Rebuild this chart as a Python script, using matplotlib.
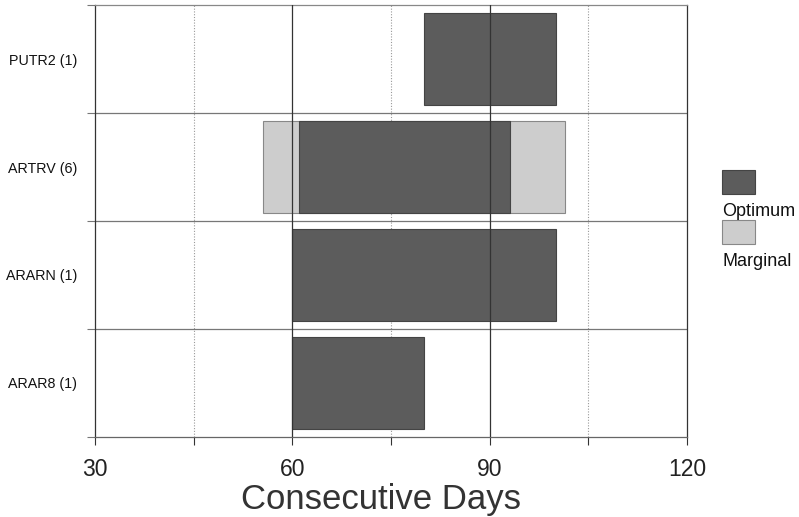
import matplotlib
matplotlib.use('Agg')
import matplotlib.pyplot as plt
from matplotlib.patches import Rectangle

plt.rcParams['font.family'] = ['Liberation Sans', 'DejaVu Sans']

# 資料
species = ['PUTR2 (1)', 'ARTRV (6)', 'ARARN (1)', 'ARAR8 (1)']
optimum_start = [80, 61, 60, 60]
optimum_end = [100, 93, 100, 80]
marginal_start = [None, 55.5, None, None]
marginal_end = [None, 101.5, None, None]
x_ticks = [30, 60, 90, 120]
x_minor = [45, 75, 105]

opt_color = '#5c5c5c'
mar_color = '#cdcdcd'

fig = plt.figure(figsize=(7.99, 5.17), dpi=100)
ax = fig.add_axes([0.119, 0.155, 0.741, 0.835])

ypos = list(range(len(species)))
bar_h = 0.85

# marginal 背景條
for y, s, e in zip(ypos, marginal_start, marginal_end):
    if s is not None:
        ax.barh(y, e - s, left=s, height=bar_h, color=mar_color,
                edgecolor='#888888', linewidth=0.8, zorder=2)

# optimum 條
widths = [e - s for s, e in zip(optimum_start, optimum_end)]
ax.barh(ypos, widths, left=optimum_start, height=bar_h, color=opt_color,
        edgecolor='#444444', linewidth=0.8, zorder=3)

ax.set_xlim(30, 120)
ax.set_ylim(len(species) - 0.5, -0.5)

# 格線
for x in x_minor:
    ax.axvline(x, color='#999999', linestyle=(0, (1, 1.5)), linewidth=0.8, zorder=1)
for x in x_ticks[1:-1]:
    ax.axvline(x, color='#333333', linewidth=0.9, zorder=4)
for y in [0.5, 1.5, 2.5]:
    ax.axhline(y, color='#777777', linewidth=0.9, zorder=1)

ax.set_xticks(x_ticks)
ax.set_xticks(x_minor, minor=True)
ax.set_xticklabels([str(t) for t in x_ticks], fontsize=16.5, color='#222222')
ax.tick_params(axis='x', which='both', direction='out', length=6, width=0.8,
               color='#333333', pad=9)
ax.tick_params(axis='x', which='minor', length=6)

ax.set_yticks(ypos)
ax.set_yticklabels(species, fontsize=10.3, color='#111111')
ax.tick_params(axis='y', which='major', length=0, pad=13)
ax.set_yticks([-0.5, 0.5, 1.5, 2.5, 3.5], minor=True)
ax.tick_params(axis='y', which='minor', direction='out', length=6, width=0.8, color='#777777')

for side in ['left', 'bottom', 'right']:
    ax.spines[side].set_color('#333333')
    ax.spines[side].set_linewidth(0.9)
ax.spines['top'].set_color('#888888')
ax.spines['top'].set_linewidth(0.9)
ax.spines['bottom'].set_color('#666666')

ax.set_xlabel('Consecutive Days', fontsize=25, color='#333333')
ax.xaxis.set_label_coords(0.483, -0.146)
ax.xaxis.label.set_va('center')

# 圖例
fig.add_artist(Rectangle((722 / 799, 1 - 194 / 517), 33 / 799, 24 / 517,
                         transform=fig.transFigure, facecolor=opt_color,
                         edgecolor='#444444', linewidth=0.8))
fig.text(722 / 799, 1 - 212 / 517, 'Optimum', fontsize=13, va='center', ha='left', color='#111111')
fig.add_artist(Rectangle((722 / 799, 1 - 244 / 517), 33 / 799, 24 / 517,
                         transform=fig.transFigure, facecolor=mar_color,
                         edgecolor='#888888', linewidth=0.8))
fig.text(722 / 799, 1 - 262 / 517, 'Marginal', fontsize=13, va='center', ha='left', color='#111111')

fig.savefig('out.png', dpi=100)
plt.close(fig)
